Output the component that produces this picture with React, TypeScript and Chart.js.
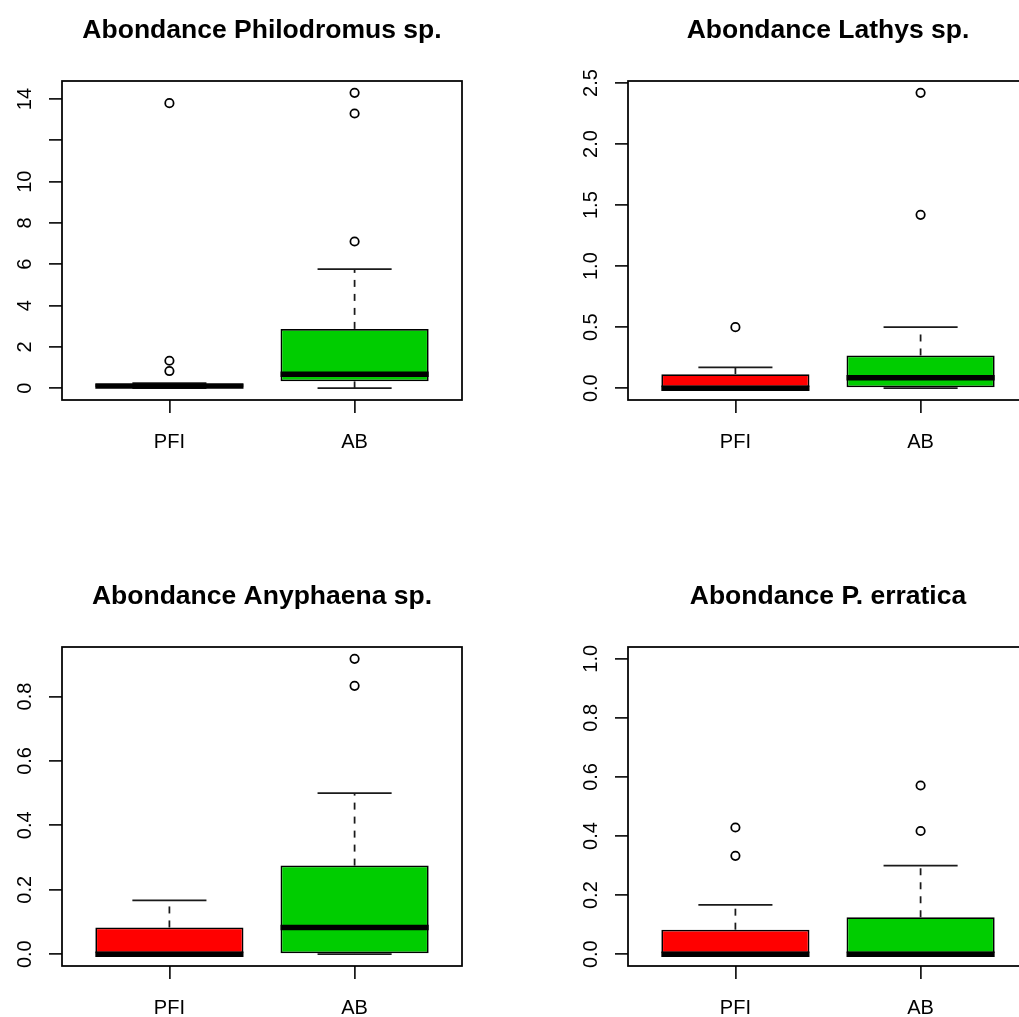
import React, { useEffect, useRef } from 'react';
import { Chart, registerables } from 'chart.js';

Chart.register(...registerables);

const FONT = "'Liberation Sans', Arial, Helvetica, sans-serif";

const categories = ['PFI', 'AB'];
const boxColors = ['#FF0000', '#00CD00'];

// box statistics: [lower whisker, Q1, median, Q3, upper whisker]
const philodromusPFI = [0, 0.04, 0.1, 0.2, 0.25];
const philodromusAB = [0, 0.33, 0.67, 2.87, 5.76];
const philodromusOutPFI = [0.83, 1.33, 13.8];
const philodromusOutAB = [7.1, 13.3, 14.3];
const philodromusYLim = [0, 14.3];
const philodromusTicks = [0, 2, 4, 6, 8, 10, 12, 14];
const philodromusTickLabels = ['0', '2', '4', '6', '8', '10', '', '14'];

const lathysPFI = [0, 0, 0, 0.115, 0.17];
const lathysAB = [0, 0, 0.085, 0.268, 0.5];
const lathysOutPFI = [0.5];
const lathysOutAB = [1.42, 2.42];
const lathysYLim = [0, 2.42];
const lathysTicks = [0, 0.5, 1, 1.5, 2, 2.5];
const lathysTickLabels = ['0.0', '0.5', '1.0', '1.5', '2.0', '2.5'];

const anyphaenaPFI = [0, 0, 0, 0.083, 0.167];
const anyphaenaAB = [0, 0, 0.083, 0.275, 0.5];
const anyphaenaOutPFI: number[] = [];
const anyphaenaOutAB = [0.833, 0.917];
const anyphaenaYLim = [0, 0.917];
const anyphaenaTicks = [0, 0.2, 0.4, 0.6, 0.8];
const anyphaenaTickLabels = ['0.0', '0.2', '0.4', '0.6', '0.8'];

const erraticaPFI = [0, 0, 0, 0.083, 0.167];
const erraticaAB = [0, 0, 0, 0.125, 0.3];
const erraticaOutPFI = [0.333, 0.429];
const erraticaOutAB = [0.417, 0.571];
const erraticaYLim = [0, 1];
const erraticaTicks = [0, 0.2, 0.4, 0.6, 0.8, 1.0];
const erraticaTickLabels = ['0.0', '0.2', '0.4', '0.6', '0.8', '1.0'];

const titles = [
  'Abondance Philodromus sp.',
  'Abondance Lathys sp.',
  'Abondance Anyphaena sp.',
  'Abondance P. erratica',
];

const panels = [
  { title: titles[0], stats: [philodromusPFI, philodromusAB], outliers: [philodromusOutPFI, philodromusOutAB], ylim: philodromusYLim, ticks: philodromusTicks, tickLabels: philodromusTickLabels, left: 0, top: 0 },
  { title: titles[1], stats: [lathysPFI, lathysAB], outliers: [lathysOutPFI, lathysOutAB], ylim: lathysYLim, ticks: lathysTicks, tickLabels: lathysTickLabels, left: 566, top: 0 },
  { title: titles[2], stats: [anyphaenaPFI, anyphaenaAB], outliers: [anyphaenaOutPFI, anyphaenaOutAB], ylim: anyphaenaYLim, ticks: anyphaenaTicks, tickLabels: anyphaenaTickLabels, left: 0, top: 566 },
  { title: titles[3], stats: [erraticaPFI, erraticaAB], outliers: [erraticaOutPFI, erraticaOutAB], ylim: erraticaYLim, ticks: erraticaTicks, tickLabels: erraticaTickLabels, left: 566, top: 566 },
];

const W = 520;
const H = 470;
const BOX_WEX = 0.8;
const STAPLE = 0.4;
const LW = 1.75;

function buildDatasets(stats: number[][], outliers: number[][]) {
  const ds: any[] = [];
  ds.push({
    type: 'bar',
    data: stats.map((s, i) => ({ x: i + 1, y: [s[1], s[3]] })),
    backgroundColor: boxColors,
    borderColor: '#000',
    borderWidth: LW,
    borderSkipped: false,
    barPercentage: BOX_WEX,
    categoryPercentage: 1,
    order: 5,
  });
  stats.forEach((s, i) => {
    const x = i + 1;
    const seg = (pts: any[], extra: any) =>
      ds.push({
        type: 'line',
        data: pts,
        borderColor: '#1a1a1a',
        borderWidth: LW,
        pointRadius: 0,
        pointHoverRadius: 0,
        tension: 0,
        fill: false,
        borderCapStyle: 'butt',
        ...extra,
      });
    seg([{ x, y: s[3] }, { x, y: s[4] }], { borderDash: [7, 7], order: 4 });
    seg([{ x, y: s[1] }, { x, y: s[0] }], { borderDash: [7, 7], order: 4 });
    seg([{ x: x - STAPLE / 2, y: s[4] }, { x: x + STAPLE / 2, y: s[4] }], { order: 3 });
    seg([{ x: x - STAPLE / 2, y: s[0] }, { x: x + STAPLE / 2, y: s[0] }], { order: 3 });
    seg([{ x: x - BOX_WEX / 2, y: s[2] }, { x: x + BOX_WEX / 2, y: s[2] }], { borderWidth: 5.5, borderColor: '#000', order: 2 });
  });
  ds.push({
    type: 'scatter',
    data: outliers.flatMap((o, i) => o.map((v) => ({ x: i + 1, y: v }))),
    pointStyle: 'circle',
    pointRadius: 4.2,
    pointHoverRadius: 4.2,
    pointBorderWidth: LW,
    pointBorderColor: '#000',
    pointBackgroundColor: 'rgba(0,0,0,0)',
    showLine: false,
    order: 0,
  });
  return ds;
}

function buildConfig(p: any) {
  const [lo, hi] = p.ylim;
  const ext = (hi - lo) * 0.04;
  const xExt = categories.length * 0.04;
  const rStyle = {
    id: 'rStyle',
    afterDraw(chart: any) {
      const { ctx, chartArea: a, scales } = chart;
      ctx.save();
      ctx.strokeStyle = '#000';
      ctx.lineWidth = LW;
      ctx.strokeRect(a.left, a.top, a.right - a.left, a.bottom - a.top);
      const ys = scales.y;
      ctx.font = `20px ${FONT}`;
      ctx.fillStyle = '#000';
      ctx.textAlign = 'center';
      ctx.textBaseline = 'alphabetic';
      ys.ticks.forEach((t: any, i: number) => {
        const label = p.tickLabels[i];
        if (!label) return;
        const y = ys.getPixelForValue(t.value);
        ctx.save();
        ctx.translate(a.left - 31, y);
        ctx.rotate(-Math.PI / 2);
        ctx.fillText(label, 0, 0);
        ctx.restore();
      });
      ctx.restore();
    },
  };
  return {
    type: 'bar',
    data: { datasets: buildDatasets(p.stats, p.outliers) },
    plugins: [rStyle],
    options: {
      animation: false,
      responsive: false,
      devicePixelRatio: 1,
      layout: { padding: { left: 0, right: W - 462, top: 0, bottom: 0 } },
      plugins: {
        legend: { display: false },
        tooltip: { enabled: false },
        title: {
          display: true,
          text: p.title,
          fullSize: false,
          color: '#000',
          font: { family: FONT, size: 26.5, weight: 'bold', lineHeight: 1.2 },
          padding: { top: 14.5, bottom: 34.7 },
        },
      },
      scales: {
        x: {
          type: 'linear',
          min: 0.5 - xExt,
          max: categories.length + 0.5 + xExt,
          offset: false,
          bounds: 'data',
          afterBuildTicks: (axis: any) => {
            axis.ticks = categories.map((_, i) => ({ value: i + 1 }));
          },
          afterFit: (axis: any) => {
            axis.height = H - 400;
          },
          ticks: {
            autoSkip: false,
            maxRotation: 0,
            minRotation: 0,
            padding: 17,
            color: '#000',
            font: { family: FONT, size: 20 },
            callback: (_v: any, i: number) => categories[i],
          },
          grid: { offset: false, drawOnChartArea: false, drawTicks: true, tickLength: 13, color: '#1a1a1a', lineWidth: LW },
          border: { display: false },
        },
        y: {
          type: 'linear',
          min: lo - ext,
          max: hi + ext,
          bounds: 'data',
          afterBuildTicks: (axis: any) => {
            axis.ticks = p.ticks.map((v: number) => ({ value: v }));
          },
          afterFit: (axis: any) => {
            axis.width = 62;
          },
          ticks: { display: false },
          grid: { offset: false, drawOnChartArea: false, drawTicks: true, tickLength: 13, color: '#1a1a1a', lineWidth: LW },
          border: { display: false },
        },
      },
    },
  };
}

function BoxPanel({ p }: { p: any }) {
  const ref = useRef<HTMLCanvasElement | null>(null);
  useEffect(() => {
    if (!ref.current) return;
    const chart = new Chart(ref.current, buildConfig(p) as any);
    return () => chart.destroy();
  }, [p]);
  return (
    <canvas
      ref={ref}
      width={W}
      height={H}
      style={{ position: 'absolute', left: p.left, top: p.top, width: W, height: H }}
    />
  );
}

export default function App() {
  return (
    <div
      style={{
        position: 'absolute',
        left: 0,
        top: 0,
        width: 1019,
        height: 1017,
        overflow: 'hidden',
        background: '#fff',
      }}
    >
      {panels.map((p, i) => (
        <BoxPanel key={i} p={p} />
      ))}
    </div>
  );
}
